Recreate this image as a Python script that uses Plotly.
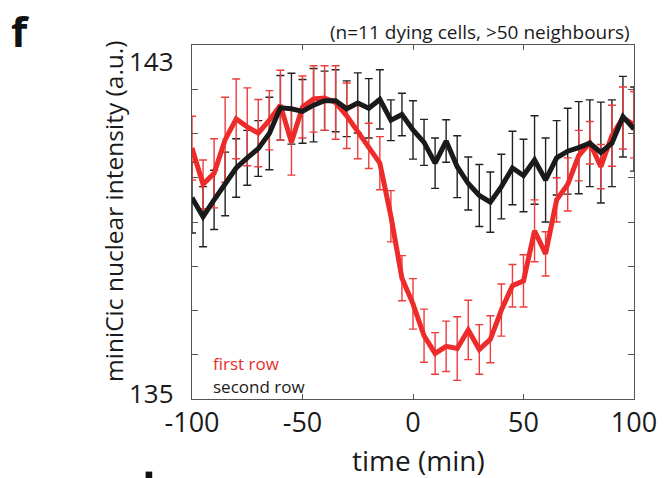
import plotly.graph_objects as go

time_min = list(range(-100, 101, 5))

first_row = [140.67, 139.85, 140.10, 140.86, 141.33, 141.15, 141.01, 141.30, 141.64, 140.80,
             141.60, 141.78, 141.80, 141.70, 141.40, 141.05, 140.72, 140.33, 139.13, 137.73,
             137.15, 136.43, 136.03, 136.19, 136.14, 136.56, 136.12, 136.35, 137.01, 137.56,
             137.67, 138.80, 138.28, 139.50, 139.85, 140.50, 140.79, 140.25, 140.95, 141.35,
             141.20]
first_err = [0.72, 0.55, 0.78, 0.96, 0.90, 0.88, 0.76, 0.67, 0.79, 0.74,
             0.70, 0.75, 0.73, 0.83, 0.74, 0.62, 0.51, 0.60, 0.58, 0.51,
             0.57, 0.60, 0.47, 0.57, 0.72, 0.67, 0.56, 0.53, 0.59, 0.48,
             0.59, 0.70, 0.50, 0.50, 0.60, 0.57, 0.48, 0.50, 0.69, 0.70,
             0.75]

second_row = [139.55, 139.12, 139.50, 139.86, 140.22, 140.45, 140.66, 141.00, 141.58, 141.56,
              141.50, 141.64, 141.74, 141.74, 141.56, 141.69, 141.57, 141.77, 141.30, 141.43,
              141.08, 140.80, 140.33, 140.83, 140.25, 139.87, 139.60, 139.45, 139.80, 140.22,
              140.05, 140.40, 139.95, 140.45, 140.60, 140.68, 140.78, 140.57, 140.78, 141.38,
              141.10]
second_err = [0.80, 0.68, 0.67, 0.72, 0.66, 0.62, 0.63, 0.82, 0.73, 0.80,
              0.72, 0.83, 0.67, 0.70, 0.63, 0.68, 0.67, 0.67, 0.46, 0.48,
              0.66, 0.52, 0.57, 0.48, 0.70, 0.60, 0.70, 0.68, 0.73, 0.83,
              0.82, 1.00, 0.95, 0.84, 0.97, 1.04, 0.98, 1.14, 0.98, 0.91,
              0.95]

x_ticks = [-100, -50, 0, 50, 100]
x_tick_labels = ["-100", "-50", "0", "50", "100"]
y_ticks = list(range(135, 144))
y_labels = {135: "135", 143: "143"}

RED = "#ED2B2B"
RED_ERR = "#EE3C3C"
BLACK = "#1A1A1A"
BLACK_ERR = "#222222"
FONT = "Open Sans"

fig = go.Figure()

# error bars (drawn below the lines)
fig.add_trace(go.Scatter(
    x=time_min, y=second_row, mode="markers",
    marker=dict(size=1, color="rgba(0,0,0,0)"),
    error_y=dict(type="data", array=second_err, color=BLACK_ERR, thickness=1.4, width=4),
    showlegend=False, hoverinfo="skip"))
fig.add_trace(go.Scatter(
    x=time_min, y=first_row, mode="markers",
    marker=dict(size=1, color="rgba(0,0,0,0)"),
    error_y=dict(type="data", array=first_err, color=RED_ERR, thickness=1.4, width=4),
    showlegend=False, hoverinfo="skip"))
# mean lines
fig.add_trace(go.Scatter(x=time_min, y=first_row, mode="lines",
                         line=dict(color=RED, width=5), name="first row", showlegend=False))
fig.add_trace(go.Scatter(x=time_min, y=second_row, mode="lines",
                         line=dict(color=BLACK, width=5), name="second row", showlegend=False))

axis_common = dict(showline=True, linecolor="#555555", linewidth=1, mirror="ticks",
                   ticks="inside", tickcolor="#555555", showgrid=False, zeroline=False)

fig.update_xaxes(range=[-100, 100], tickvals=x_ticks, ticktext=x_tick_labels, ticklen=5,
                 tickfont=dict(family=FONT, size=27, color="#1a1a1a"), **axis_common)
fig.update_yaxes(range=[135, 143], tickvals=y_ticks, ticktext=["" for _ in y_ticks], ticklen=6,
                 **axis_common)

annotations = []
for v, t in y_labels.items():
    annotations.append(dict(x=0, xref="paper", y=v, yref="y", xanchor="right", yanchor="middle",
                            xshift=-16, yshift=(-16 if v == 143 else 6), text=t, showarrow=False,
                            font=dict(family=FONT, size=26, color="#1a1a1a")))
annotations += [
    dict(x=0.513, xref="paper", y=-0.172, yref="paper", xanchor="center", yanchor="middle",
         text="time (min)", showarrow=False, font=dict(family=FONT, size=28, color="#1a1a1a")),
    dict(x=-0.179, xref="paper", y=0.531, yref="paper", xanchor="center", yanchor="middle",
         text="miniCic nuclear intensity (a.u.)", textangle=-90, showarrow=False,
         font=dict(family=FONT, size=24.5, color="#1a1a1a")),
    dict(x=0.995, xref="paper", y=1.037, yref="paper", xanchor="right", yanchor="middle",
         text="(n=11 dying cells, >50 neighbours)", showarrow=False,
         font=dict(family=FONT, size=19, color="#1a1a1a")),
    dict(x=0.043, xref="paper", y=0.10, yref="paper", xanchor="left", yanchor="middle",
         text="first row", showarrow=False, font=dict(family=FONT, size=17, color=RED)),
    dict(x=0.043, xref="paper", y=0.035, yref="paper", xanchor="left", yanchor="middle",
         text="second row", showarrow=False, font=dict(family=FONT, size=17, color="#1a1a1a")),
    dict(x=-0.415, xref="paper", y=1.04, yref="paper", xanchor="left", yanchor="middle",
         text="<b>f</b>", showarrow=False,
         font=dict(family=FONT, size=42, color="#111111")),
]

fig.update_layout(
    width=669, height=478,
    margin=dict(l=192, r=29, t=45, b=79),
    paper_bgcolor="white", plot_bgcolor="white",
    annotations=annotations,
    shapes=[dict(type="rect", xref="paper", yref="paper", x0=-0.105, x1=-0.09, y0=-0.225, y1=-0.205,
                 fillcolor="#111111", line=dict(width=0))],
)

fig.write_html("out.html")
